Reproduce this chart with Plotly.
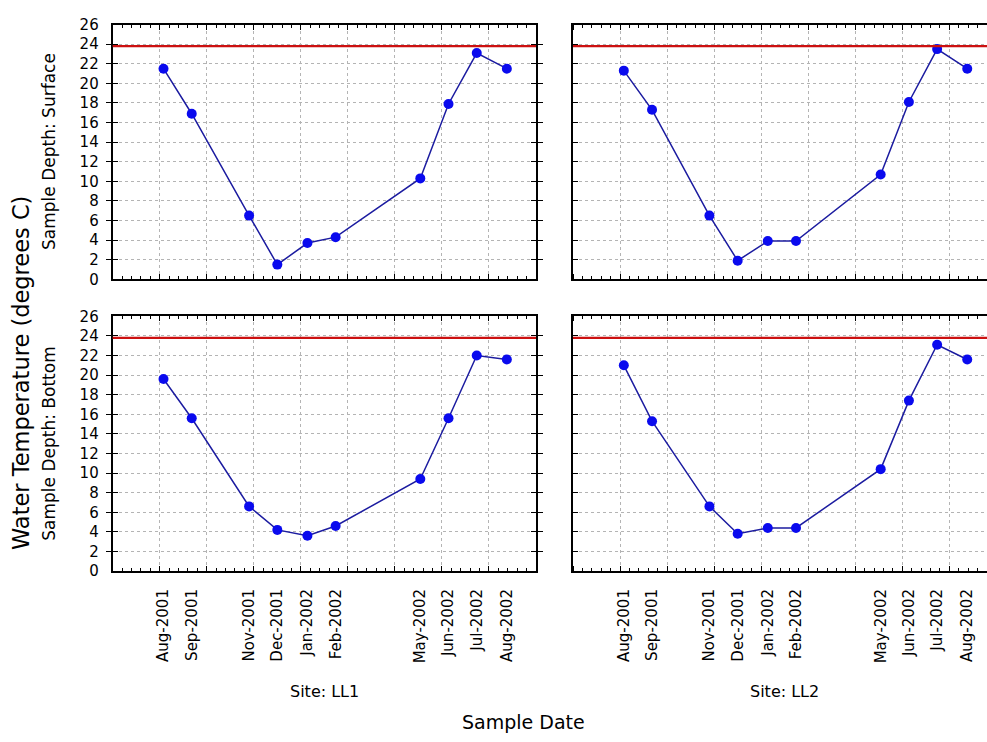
import plotly.graph_objects as go
from datetime import date, timedelta

# ---------------- data ----------------
sample_dates = ["2001-08-15", "2001-09-14", "2001-11-14", "2001-12-14", "2002-01-15",
                "2002-02-14", "2002-05-15", "2002-06-14", "2002-07-14", "2002-08-15"]
date_labels = ["Aug-2001", "Sep-2001", "Nov-2001", "Dec-2001", "Jan-2002",
               "Feb-2002", "May-2002", "Jun-2002", "Jul-2002", "Aug-2002"]
ll1_surface = [21.5, 16.9, 6.5, 1.5, 3.7, 4.3, 10.3, 17.9, 23.1, 21.5]
ll2_surface = [21.3, 17.3, 6.5, 1.9, 3.9, 3.9, 10.7, 18.1, 23.5, 21.5]
ll1_bottom = [19.6, 15.6, 6.6, 4.2, 3.6, 4.6, 9.4, 15.6, 22.0, 21.6]
ll2_bottom = [21.0, 15.3, 6.6, 3.8, 4.4, 4.4, 10.4, 17.4, 23.1, 21.6]
threshold = 23.8
site_labels = ["Site: LL1", "Site: LL2"]
depth_labels = ["Sample Depth: Surface", "Sample Depth: Bottom"]
y_title = "Water Temperature (degrees C)"
x_title = "Sample Date"

# ---------------- layout geometry (pixels) ----------------
W, H = 987, 742
FONT = "DejaVu Sans"
left_px = (112.7, 536.0)
right_px = (573.0, 996.0)   # right panel runs past the picture edge
top_px = (16.0, 277.0)
bot_px = (315.0, 576.0)

def xdom(p):
    return [p[0] / W, min(p[1] / W, 1.0)]

def ydom(p):
    return [1 - p[1] / H, 1 - p[0] / H]

range_start = date(2001, 6, 22)
span_days = 450
left_end = range_start + timedelta(days=span_days)
vis_frac = (W - right_px[0]) / (right_px[1] - right_px[0])
right_end = range_start + timedelta(days=span_days * vis_frac)
DAY = 86400000

fig = go.Figure()

panels = [
    ("x", "y", ll1_surface, left_px, top_px, left_end, True, False),
    ("x2", "y2", ll2_surface, right_px, top_px, right_end, False, False),
    ("x3", "y3", ll1_bottom, left_px, bot_px, left_end, True, True),
    ("x4", "y4", ll2_bottom, right_px, bot_px, right_end, False, True),
]

grid = dict(gridcolor="#b4b4b4", griddash="dot", gridwidth=1)
layout = {}
for i, (xa, ya, vals, xd, yd, xend, left, bottom) in enumerate(panels):
    fig.add_trace(go.Scatter(
        x=sample_dates, y=vals, xaxis=xa, yaxis=ya, mode="lines+markers",
        line=dict(color="#1c1ca0", width=1.5),
        marker=dict(color="#0a0aee", size=10),
        showlegend=False, cliponaxis=False,
    ))
    fig.add_shape(type="line", xref=f"{xa} domain", yref=ya, x0=0, x1=1,
                  y0=threshold, y1=threshold, line=dict(color="#cc1010", width=2.2),
                  layer="above")
    xr = [str(range_start), str(xend)]
    xkey = "xaxis" + ("" if i == 0 else str(i + 1))
    ykey = "yaxis" + ("" if i == 0 else str(i + 1))
    layout[xkey] = dict(
        type="date", anchor=ya, domain=xdom(xd), range=xr,
        tickmode="array", tickvals=sample_dates, ticktext=date_labels,
        showticklabels=bottom, tickangle=-90, ticks="", showgrid=False,
        tickfont=dict(family=FONT, size=15, color="black"), ticklabelstandoff=10,
        showline=True, linecolor="black", linewidth=2, mirror="allticks", zeroline=False,
        minor=dict(tickmode="linear", tick0=str(range_start), dtick=50 * DAY,
                   ticks="inside", ticklen=5, tickcolor="black", showgrid=True, **grid),
    )
    layout[ykey] = dict(
        anchor=xa, domain=ydom(yd), range=[0, 26], tick0=0, dtick=2,
        ticks="inside", ticklen=5, tickcolor="black",
        showticklabels=left, tickfont=dict(family=FONT, size=15, color="black"),
        ticklabelstandoff=9, showgrid=True, **grid,
        showline=True, linecolor="black", linewidth=2,
        mirror="allticks" if left else False, zeroline=False,
    )
    # small 10-day frame ticks on an overlaid axis
    okey = "xaxis" + str(i + 5)
    oid = "x" + str(i + 5)
    layout[okey] = dict(
        type="date", overlaying=xa, anchor=ya, side="bottom", domain=xdom(xd), range=xr,
        tick0=str(range_start), dtick=10 * DAY, ticks="inside", ticklen=3,
        tickcolor="black", showticklabels=False, showgrid=False, showline=False,
        zeroline=False, mirror="ticks",
    )
    fig.add_trace(go.Scatter(x=[str(range_start)], y=[0], xaxis=oid, yaxis=ya,
                             mode="markers", marker=dict(opacity=0, size=1),
                             hoverinfo="skip", showlegend=False))

fig.update_layout(
    width=W, height=H, margin=dict(l=0, r=0, t=0, b=0),
    paper_bgcolor="white", plot_bgcolor="white",
    font=dict(family=FONT, color="black"), **layout,
)

def ann(text, xpx, ypx, size, angle=0):
    fig.add_annotation(text=text, x=xpx / W, y=1 - ypx / H, xref="paper", yref="paper",
                       xanchor="center", yanchor="middle", showarrow=False,
                       textangle=angle, font=dict(family=FONT, size=size, color="black"))

ann(depth_labels[0], 49, sum(top_px) / 2, 17, -90)
ann(depth_labels[1], 49, sum(bot_px) / 2, 17, -90)
ann(y_title, 21, 373, 22.5, -90)
ann(site_labels[0], sum(left_px) / 2, 699, 16)
ann(site_labels[1], sum(right_px) / 2, 699, 16)
ann(x_title, 523, 731, 19)

fig.write_html("out.html")
